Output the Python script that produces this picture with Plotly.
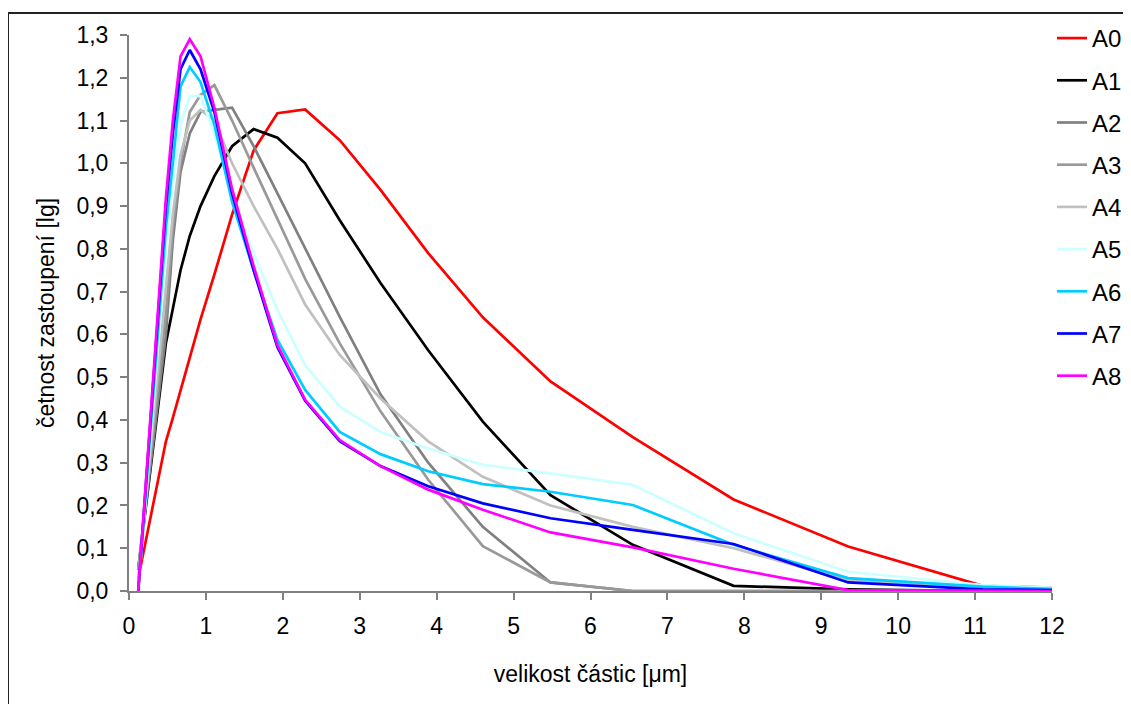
import plotly.graph_objects as go

# particle size grid [um]
size_um = [0.12, 0.48, 0.57, 0.67, 0.79, 0.93, 1.11, 1.34, 1.62, 1.93, 2.29,
           2.74, 3.27, 3.89, 4.60, 5.48, 6.55, 7.86, 9.35, 11.1, 12.0]

A0 = [0.03, 0.35, 0.405, 0.47, 0.545, 0.635, 0.74, 0.88, 1.03, 1.117, 1.126,
      1.054, 0.938, 0.79, 0.64, 0.49, 0.36, 0.214, 0.104, 0.012, 0.008]
A1 = [0.05, 0.58, 0.66, 0.75, 0.83, 0.90, 0.97, 1.04, 1.08, 1.06, 1.00,
      0.867, 0.72, 0.563, 0.396, 0.224, 0.108, 0.012, 0.004, 0.0, 0.0]
A2 = [0.05, 0.60, 0.82, 0.98, 1.07, 1.12, 1.125, 1.13, 1.04, 0.93, 0.80,
      0.641, 0.46, 0.30, 0.15, 0.02, 0.0, 0.0, 0.0, 0.0, 0.0]
A3 = [0.05, 0.65, 0.85, 1.00, 1.12, 1.16, 1.183, 1.10, 0.99, 0.87, 0.73,
      0.579, 0.42, 0.26, 0.105, 0.02, 0.0, 0.0, 0.0, 0.0, 0.0]
A4 = [0.03, 0.70, 0.88, 1.02, 1.10, 1.125, 1.10, 1.00, 0.90, 0.80, 0.67,
      0.552, 0.45, 0.35, 0.267, 0.20, 0.15, 0.10, 0.025, 0.01, 0.005]
A5 = [0.0, 0.80, 0.95, 1.09, 1.157, 1.157, 1.07, 0.93, 0.79, 0.657, 0.528,
      0.431, 0.372, 0.333, 0.295, 0.275, 0.248, 0.135, 0.045, 0.014, 0.008]
A6 = [0.0, 0.85, 1.00, 1.18, 1.225, 1.19, 1.09, 0.91, 0.75, 0.587, 0.47,
      0.372, 0.32, 0.28, 0.25, 0.232, 0.201, 0.108, 0.03, 0.01, 0.005]
A7 = [0.0, 0.90, 1.07, 1.22, 1.265, 1.22, 1.12, 0.93, 0.75, 0.57, 0.445,
      0.35, 0.292, 0.245, 0.205, 0.17, 0.143, 0.11, 0.02, 0.004, 0.002]
A8 = [0.0, 0.92, 1.10, 1.25, 1.29, 1.25, 1.13, 0.94, 0.76, 0.575, 0.447,
      0.353, 0.292, 0.237, 0.19, 0.137, 0.102, 0.052, 0.002, 0.0, 0.0]

series_names = ["A0", "A1", "A2", "A3", "A4", "A5", "A6", "A7", "A8"]
series_values = [A0, A1, A2, A3, A4, A5, A6, A7, A8]
series_colors = ["#ff0000", "#000000", "#808080", "#999999", "#c0c0c0",
                 "#ccffff", "#00ccff", "#0000ff", "#ff00ff"]

x_ticks = list(range(0, 13))
y_ticks = [round(i * 0.1, 1) for i in range(0, 14)]

FONT = "Liberation Sans, Arial, sans-serif"

fig = go.Figure()
for name, vals, col in zip(series_names, series_values, series_colors):
    fig.add_trace(go.Scatter(x=size_um, y=vals, mode="lines", name=name,
                             legendgroup=name,
                             line=dict(color=col, width=2.7)))

# page body has an 8px margin
L, R, T, B = 121, 79, 27, 113
W, H = 1123, 696
pw, ph = W - L - R, H - T - B

fig.update_layout(
    width=W, height=H,
    margin=dict(l=L, r=R, t=T, b=B, pad=0, autoexpand=False),
    paper_bgcolor="white", plot_bgcolor="white",
    separators=", ",
    font=dict(family=FONT, color="black", size=23),
    showlegend=True,
    legend=dict(x=(1052 - 129) / pw, y=1 + (T - 8) / ph, xanchor="left", yanchor="top",
                font=dict(family=FONT, size=24, color="black"),
                bgcolor="rgba(0,0,0,0)", tracegroupgap=8,
                itemwidth=30, maxheight=650),
    xaxis=dict(range=[0, 12], tickvals=x_ticks, ticks="outside", ticklen=7,
               tickcolor="#808080", tickwidth=1.5, showline=True,
               linecolor="#808080", linewidth=2, showgrid=False, zeroline=False,
               tickfont=dict(size=23), ticklabelstandoff=6,
               title=dict(text="velikost částic [μm]", font=dict(size=23), standoff=28)),
    yaxis=dict(range=[0, 1.3], tickvals=y_ticks, tickformat=".1f", ticks="outside",
               ticklen=7, tickcolor="#808080", tickwidth=1.5, showline=True,
               linecolor="#808080", linewidth=2, showgrid=False, zeroline=False,
               tickfont=dict(size=23), ticklabelstandoff=7,
               title=dict(text="četnost zastoupení [lg]", font=dict(size=23), standoff=15)),
)

# outer chart frame
fig.add_shape(type="rect", xref="paper", yref="paper",
              x0=(0 - L) / pw, x1=1.3, y0=-0.5, y1=1 + (T - 5) / ph,
              line=dict(color="#222222", width=2), fillcolor="rgba(0,0,0,0)",
              layer="below")

fig.write_html("out.html")
